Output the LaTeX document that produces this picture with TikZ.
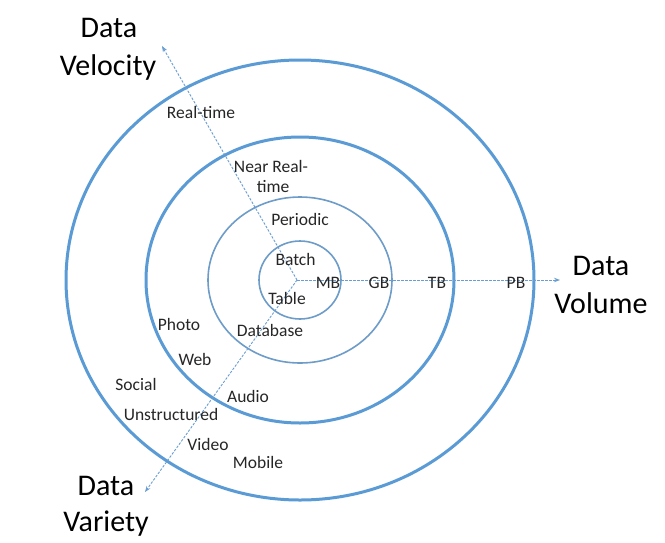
\documentclass[tikz,border=0pt]{standalone}
\usepackage{fontspec}
\setmainfont{Carlito}
\usetikzlibrary{arrows.meta,shapes.geometric}
\definecolor{ringblue}{HTML}{5B9BD5}
\definecolor{ringinner}{HTML}{6E9CC9}
\definecolor{axisblue}{HTML}{6A9ED3}
\definecolor{labelgray}{HTML}{262626}
\begin{document}
\begin{tikzpicture}[x=1pt,y=-1pt,
  ring/.style={draw=ringblue,line width=3pt,ellipse,inner sep=0pt,outer sep=0pt},
  thinring/.style={draw=ringinner,line width=1.6pt,ellipse,inner sep=0pt,outer sep=0pt},
  axis/.style={draw=axisblue,line width=0.9pt,dash pattern=on 2.5pt off 1.5pt,-{Stealth[length=6pt,width=4.5pt]}},
  lbl/.style={font=\fontsize{17.5}{21}\selectfont,text=labelgray,anchor=base,inner sep=0pt},
  big/.style={font=\fontsize{30}{37.5}\selectfont,text=black,anchor=base,inner sep=0pt}
]
\useasboundingbox (0,0) rectangle (665,542);
\fill[white] (0,0) rectangle (665,542);
% rings
\node[ring,minimum width=468pt,minimum height=440pt] (r4) at (300,280) {};
\node[ring,minimum width=308pt,minimum height=286pt] (r3) at (300,280) {};
\node[thinring,minimum width=184pt,minimum height=166pt] (r2) at (300,280) {};
\node[thinring,minimum width=82pt,minimum height=78pt] (r1) at (300,280) {};
% axes
\coordinate (o) at (297,280);
\coordinate (velTip) at (162,46);
\coordinate (volTip) at (560,280);
\coordinate (varTip) at (145,492);
\draw[axis] (o) -- (velTip);
\draw[axis] (o) -- (volTip);
\draw[axis] (o) -- (varTip);
% axis titles
\node[big] (velA) at (109,37.5) {Data};
\node[big] (velB) at (108,75) {Velocity};
\node[big] (volA) at (601,275) {Data};
\node[big] (volB) at (601,313) {Volume};
\node[big] (varA) at (106,495) {Data};
\node[big] (varB) at (106,531) {Variety};
% velocity labels
\node[lbl] (rt) at (201,118) {Real-time};
\node[lbl] (nrtA) at (271,172) {Near Real-};
\node[lbl] (nrtB) at (273,192) {time};
\node[lbl] (per) at (300,225) {Periodic};
\node[lbl] (bat) at (295.5,265) {Batch};
% volume labels
\node[lbl] (mb) at (328,288) {MB};
\node[lbl] (gb) at (379,288) {GB};
\node[lbl] (tb) at (437,288) {TB};
\node[lbl] (pb) at (516,288) {PB};
% variety labels
\node[lbl] (tab) at (287,304) {Table};
\node[lbl] (pho) at (179,330) {Photo};
\node[lbl] (dbs) at (270,336) {Database};
\node[lbl] (web) at (195,365) {Web};
\node[lbl] (soc) at (136,390) {Social};
\node[lbl] (aud) at (248,402) {Audio};
\node[lbl] (uns) at (171,420) {Unstructured};
\node[lbl] (vid) at (208,450) {Video};
\node[lbl] (mob) at (258,468) {Mobile};
\end{tikzpicture}
\end{document}
